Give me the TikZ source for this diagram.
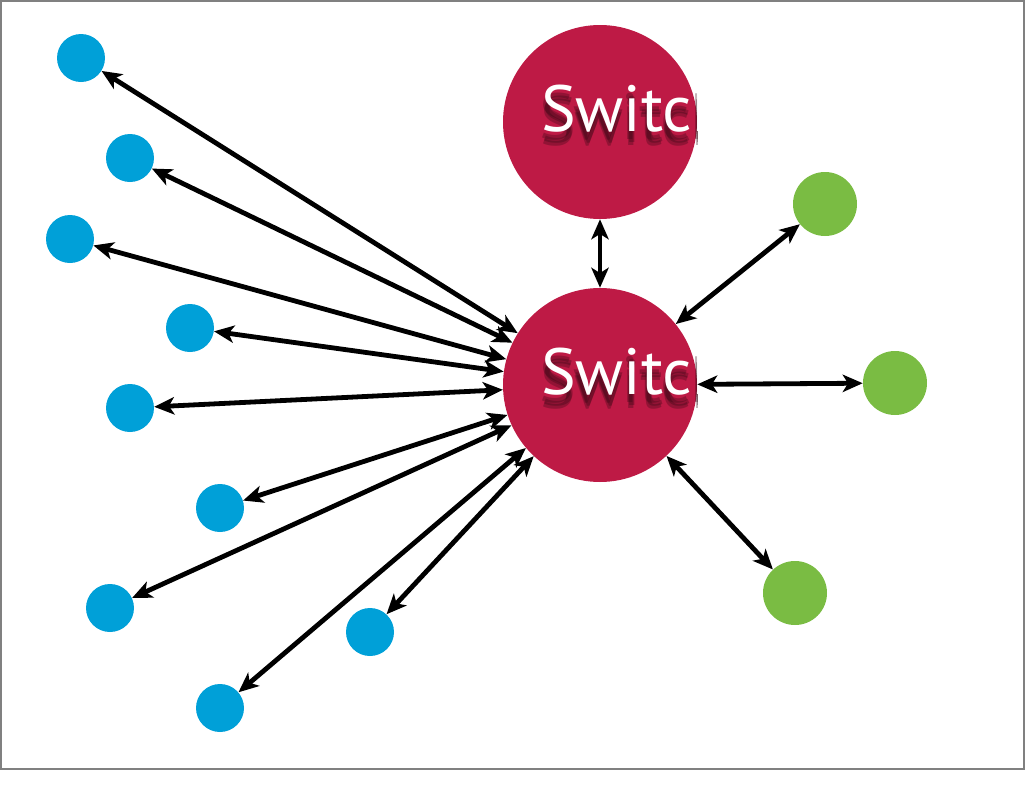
\documentclass[tikz,border=0pt]{standalone}
\usepackage{fontspec}
\newfontfamily\switchfont{PT Sans}
\usetikzlibrary{arrows.meta,positioning,calc}
\definecolor{switchred}{HTML}{BE1A45}
\definecolor{hostblue}{HTML}{00A0D8}
\definecolor{hostgreen}{HTML}{7ABC43}

\begin{document}
\begin{tikzpicture}[x=0.75pt, y=-0.75pt,
    switch/.style={circle, fill=switchred, minimum size=145.5pt, inner sep=0pt},
    bluehost/.style={circle, fill=hostblue, minimum size=36pt, inner sep=0pt},
    greenhost/.style={circle, fill=hostgreen, minimum size=48pt, inner sep=0pt},
    label/.style={font=\switchfont\fontsize{49}{49}\selectfont, inner sep=0pt, anchor=base west},
    link/.style={{Stealth[length=15pt,width=13pt,inset=4pt]}-{Stealth[length=15pt,width=13pt,inset=4pt]}, line width=3.6pt}]
  % frame
  \useasboundingbox (0,0) rectangle (1026,786);
  \draw[gray, line width=1.5pt] (1,1) rectangle (1024,769);

  % switches
  \node[switch] (swtop) at (600,122) {};
  \node[switch] (swmain) at (600,385) {};
  \foreach \sw/\base in {swtop/131, swmain/394} {
    \begin{scope}
      \clip (\sw.west |- \sw.north) rectangle (\sw.east |- \sw.south);
      \foreach \dx/\dy in {-2/8, 0/11, -1/14}
        \node[label, text=black!75!switchred, opacity=0.3] at (541+\dx,\base+\dy) {Switch};
      \node[label, text=white] at (541,\base) {Switch};
    \end{scope}
  }

  % hosts on the left
  \node[bluehost] (b1) at (81,58) {};
  \node[bluehost] (b2) at (130,158) {};
  \node[bluehost] (b3) at (70,239) {};
  \node[bluehost] (b4) at (190,328) {};
  \node[bluehost] (b5) at (130,408) {};
  \node[bluehost] (b6) at (220,508) {};
  \node[bluehost] (b7) at (110,608) {};
  \node[bluehost] (b8) at (370,632) {};
  \node[bluehost] (b9) at (220,708) {};

  % hosts on the right
  \node[greenhost] (g1) at (825,204) {};
  \node[greenhost] (g2) at (895,383) {};
  \node[greenhost] (g3) at (795,593) {};

  % links
  \draw[link] (swtop) -- (swmain);
  \foreach \h in {b1,b2,b3,b4,b5,b6,b7,b8,b9,g1,g2,g3}
    \draw[link] (\h) -- (swmain);
\end{tikzpicture}
\end{document}
